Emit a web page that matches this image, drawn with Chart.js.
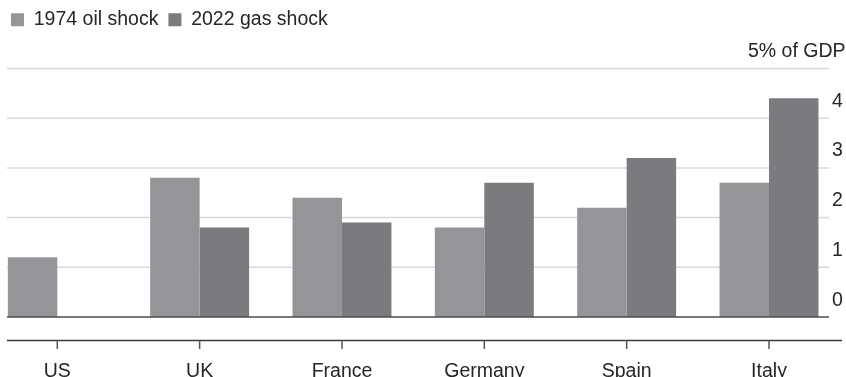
<!DOCTYPE html>
<html>
<head>
<meta charset="utf-8">
<script src="https://cdn.jsdelivr.net/npm/chart.js@4.4.1/dist/chart.umd.min.js"></script>
<style>
  html, body { margin: 0; padding: 0; background: #fff; overflow: hidden; }
  #wrap { position: relative; width: 846px; height: 377px; }
</style>
</head>
<body>
<div id="wrap"><canvas id="chart" width="846" height="377"></canvas></div>
<script>
// Fiscal cost of the energy shocks, % of GDP
const countries = ['US', 'UK', 'France', 'Germany', 'Spain', 'Italy'];
const oilShock1974 = [1.2, 2.8, 2.4, 1.8, 2.2, 2.7];
const gasShock2022 = [0.0, 1.8, 1.9, 2.7, 3.2, 4.4];
const seriesNames = ['1974 oil shock', '2022 gas shock'];
const yTicks = [0, 1, 2, 3, 4, 5];
const yTopLabel = '5% of GDP';

// Layout constants
const FONT_FAMILY = "'Liberation Sans', Arial, Helvetica, sans-serif";
const FONT_SIZE = 19.5;
const TEXT_COLOR = '#262626';
const GRID_LEFT = 7;
const X_MIN = -0.3955;
const X_MAX = 5.4215;
const Y_MAX = 5.583;

Chart.defaults.font.family = FONT_FAMILY;
Chart.defaults.font.size = FONT_SIZE;
Chart.defaults.color = TEXT_COLOR;

function strokeLine(ctx, x1, y1, x2, y2) {
  ctx.beginPath();
  ctx.moveTo(x1, y1);
  ctx.lineTo(x2, y2);
  ctx.stroke();
}

// Gridlines, baseline, separate category axis line and right-hand value labels
const axisDecor = {
  id: 'axisDecor',
  beforeDatasetsDraw(chart) {
    const { ctx, chartArea, scales: { y } } = chart;
    ctx.save();
    ctx.strokeStyle = '#d8d8d8';
    ctx.lineWidth = 1.5;
    yTicks.forEach(v => {
      if (v === 0) return;
      const py = y.getPixelForValue(v);
      strokeLine(ctx, GRID_LEFT, py, chartArea.right, py);
    });
    ctx.restore();
  },
  afterDatasetsDraw(chart) {
    const { ctx, chartArea, scales: { x, y } } = chart;
    const y0 = y.getPixelForValue(0);
    ctx.save();
    ctx.lineWidth = 1.5;
    ctx.strokeStyle = '#4d4d4d';
    strokeLine(ctx, GRID_LEFT, y0, chartArea.right, y0);

    const axisY = y0 + 23.5;
    ctx.strokeStyle = '#3a3a3a';
    strokeLine(ctx, GRID_LEFT, axisY, 842, axisY);
    ctx.strokeStyle = '#555';
    x.ticks.forEach(t => {
      const px = x.getPixelForValue(t.value);
      strokeLine(ctx, px, axisY, px, axisY + 8.5);
    });

    ctx.fillStyle = TEXT_COLOR;
    ctx.font = FONT_SIZE + 'px ' + FONT_FAMILY;
    ctx.textBaseline = 'alphabetic';
    const top = yTicks[yTicks.length - 1];
    yTicks.forEach(v => {
      const py = y.getPixelForValue(v) - 11.5;
      if (v === top) {
        ctx.textAlign = 'right';
        ctx.fillText(yTopLabel, 845.5, py);
      } else {
        ctx.textAlign = 'left';
        ctx.fillText(String(v), 832, py);
      }
    });
    ctx.restore();
  }
};

new Chart(document.getElementById('chart'), {
  type: 'bar',
  data: {
    datasets: [
      {
        label: seriesNames[0],
        data: oilShock1974.map((v, i) => ({ x: i, y: v })),
        backgroundColor: '#959599'
      },
      {
        label: seriesNames[1],
        data: gasShock2022.map((v, i) => ({ x: i, y: v })),
        backgroundColor: '#7b7b7f'
      }
    ]
  },
  options: {
    responsive: false,
    devicePixelRatio: 1,
    animation: false,
    categoryPercentage: 0.695,
    barPercentage: 1.0,
    layout: { padding: { left: 1, right: 17, top: 0, bottom: 0 } },
    plugins: {
      legend: {
        position: 'top',
        align: 'start',
        labels: {
          boxWidth: 13,
          boxHeight: 13,
          padding: 10,
          color: TEXT_COLOR,
          font: { size: FONT_SIZE }
        }
      },
      tooltip: { enabled: false }
    },
    scales: {
      x: {
        type: 'linear',
        min: X_MIN,
        max: X_MAX,
        offset: false,
        afterBuildTicks: s => { s.ticks = countries.map((_, i) => ({ value: i })); },
        afterFit: s => { s.height = 60; },
        grid: { display: false },
        border: { display: false },
        ticks: {
          padding: 35,
          maxRotation: 0,
          autoSkip: false,
          color: TEXT_COLOR,
          font: { size: FONT_SIZE },
          callback: v => countries[v]
        }
      },
      y: {
        display: false,
        min: 0,
        max: Y_MAX
      }
    }
  },
  plugins: [axisDecor]
});
</script>
</body>
</html>
